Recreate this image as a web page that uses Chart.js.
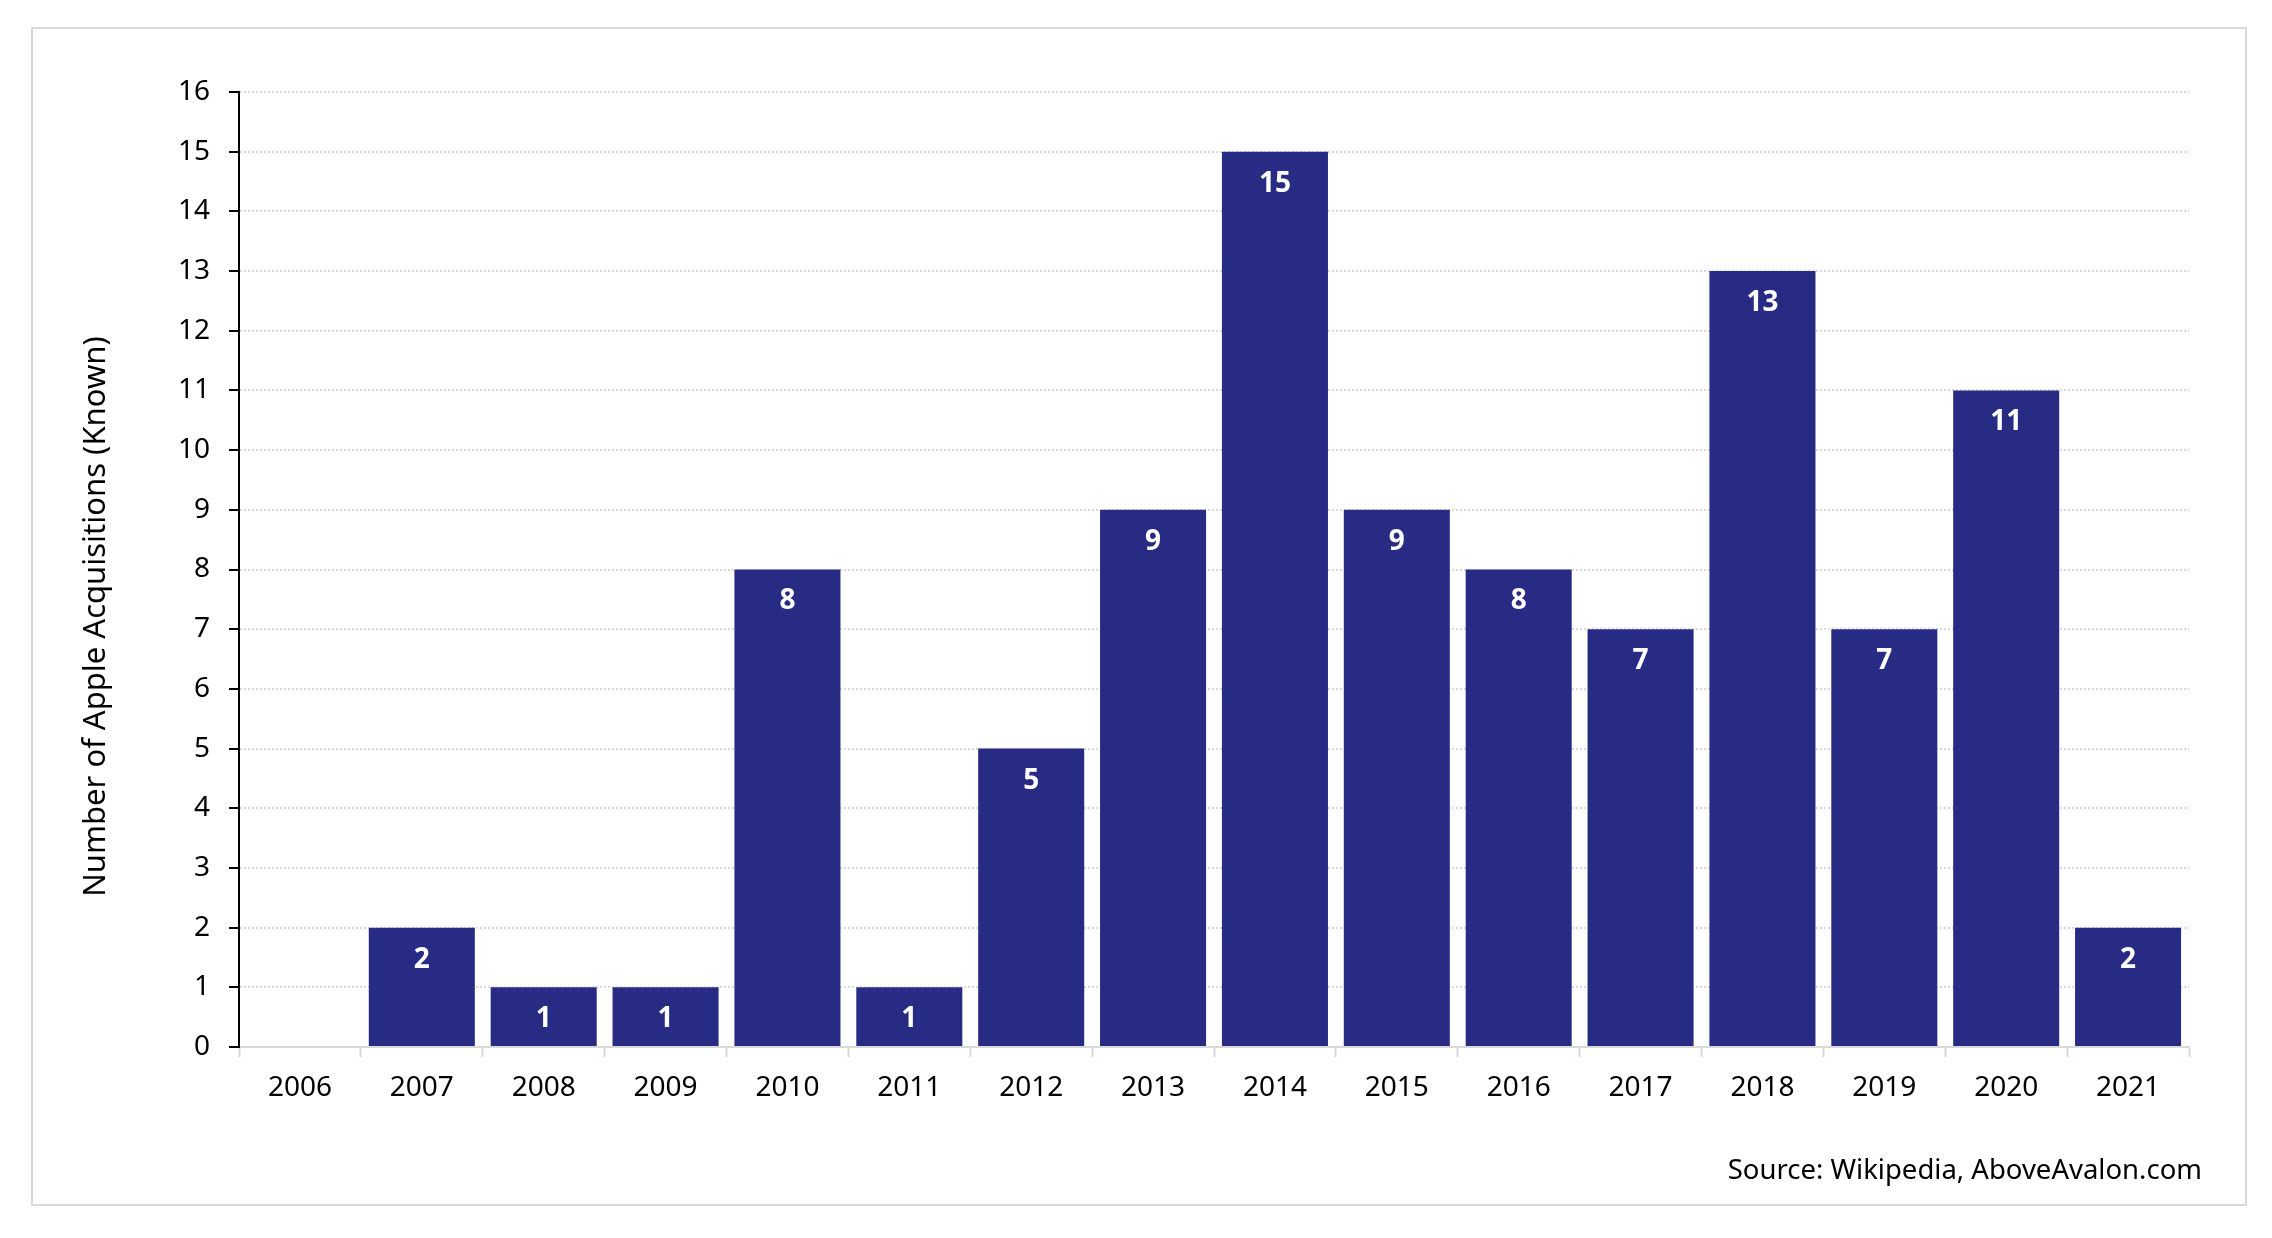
<!DOCTYPE html>
<html>
<head>
<meta charset="utf-8">
<script src="https://cdn.jsdelivr.net/npm/chart.js@4.4.1/dist/chart.umd.min.js"></script>
<style>
  body { margin: 0; background: #ffffff; }
  #frame {
    position: absolute;
    left: 31px;
    top: 27px;
    width: 2212px;
    height: 1175px;
    border: 2px solid #d9d9d9;
  }
</style>
</head>
<body>
<div id="frame"><canvas id="acquisitions-chart"></canvas></div>
<script>
// Apple acquisitions per year (known)
const years = ["2006", "2007", "2008", "2009", "2010", "2011", "2012", "2013",
  "2014", "2015", "2016", "2017", "2018", "2019", "2020", "2021"];
const acquisitions = [0, 2, 1, 1, 8, 1, 5, 9, 15, 9, 8, 7, 13, 7, 11, 2];
const yTicks = [0, 16];

const axisTitle = "Number of Apple Acquisitions (Known)";
const sourceNote = "Source: Wikipedia, AboveAvalon.com";

const FONT = "'Noto Sans', sans-serif";

// White value labels inside the top of each bar
const barLabels = {
  id: "barLabels",
  afterDatasetsDraw(chart) {
    const ctx = chart.ctx;
    const meta = chart.getDatasetMeta(0);
    ctx.save();
    ctx.fillStyle = "#ffffff";
    ctx.font = "bold 28px " + FONT;
    ctx.textAlign = "center";
    ctx.textBaseline = "middle";
    meta.data.forEach((bar, i) => {
      const v = acquisitions[i];
      if (!v) return;
      ctx.fillText(String(v), bar.x, bar.y + 32);
    });
    ctx.restore();
  },
};

// Rotated axis title and source note
const annotations = {
  id: "annotations",
  afterDraw(chart) {
    const ctx = chart.ctx;
    ctx.save();
    ctx.fillStyle = "#000000";
    ctx.font = "31px " + FONT;
    ctx.translate(63, chart.height / 2);
    ctx.rotate(-Math.PI / 2);
    ctx.textAlign = "center";
    ctx.textBaseline = "middle";
    ctx.fillText(axisTitle, 0, 0);
    ctx.restore();

    ctx.save();
    ctx.fillStyle = "#000000";
    ctx.font = "27.5px " + FONT;
    ctx.textAlign = "right";
    ctx.textBaseline = "alphabetic";
    ctx.fillText(sourceNote, 2169, 1150);
    ctx.restore();
  },
};

new Chart(document.getElementById("acquisitions-chart"), {
  type: "bar",
  data: {
    labels: years,
    datasets: [
      {
        data: acquisitions,
        backgroundColor: "#282b84",
        borderWidth: 0,
        categoryPercentage: 1,
        barPercentage: 0.87,
      },
    ],
  },
  options: {
    responsive: true,
    maintainAspectRatio: false,
    animation: false,
    layout: {
      padding: { left: 0, top: 63, right: 56, bottom: 0 },
    },
    plugins: {
      legend: { display: false },
      tooltip: { enabled: false },
    },
    scales: {
      x: {
        afterFit(scale) {
          scale.height = 157;
        },
        grid: {
          drawOnChartArea: false,
          drawTicks: true,
          tickLength: 10,
          tickWidth: 2,
          tickColor: "#d9d9d9",
        },
        border: { color: "#d9d9d9", width: 2 },
        ticks: {
          color: "#000000",
          padding: 14,
          font: { family: FONT, size: 28 },
        },
      },
      y: {
        min: yTicks[0],
        max: yTicks[1],
        afterFit(scale) {
          scale.width = 206;
        },
        grid: {
          color: "#d9d9d9",
          lineWidth: 2,
          tickLength: 10,
          tickWidth: 2,
          tickColor: "#000000",
        },
        border: { color: "#000000", width: 2, dash: [2, 2] },
        ticks: {
          stepSize: 1,
          color: "#000000",
          padding: 19,
          font: { family: FONT, size: 28 },
        },
      },
    },
  },
  plugins: [barLabels, annotations],
});
</script>
</body>
</html>
